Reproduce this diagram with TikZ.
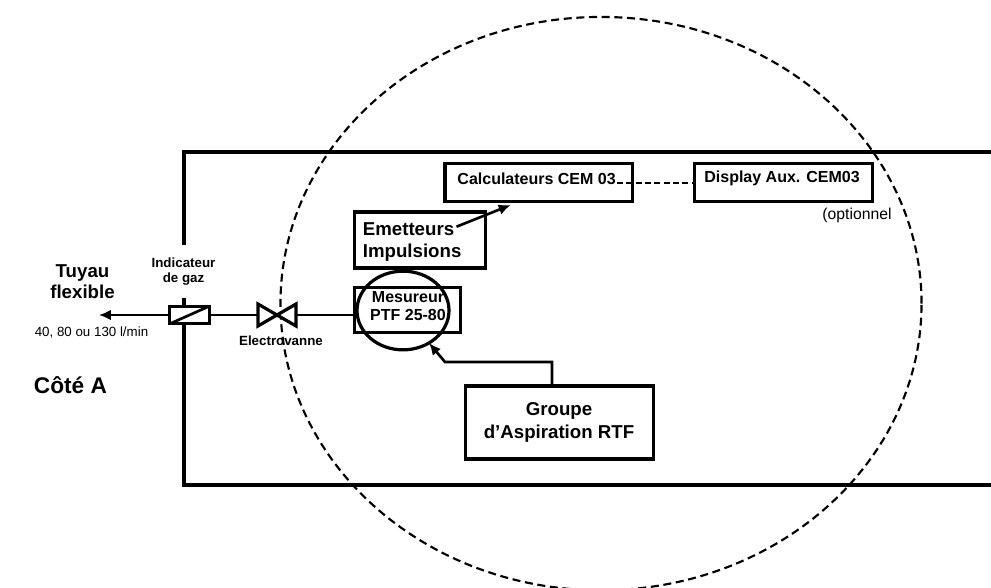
\documentclass[tikz,border=0pt]{standalone}
\usepackage{fontspec}
\setmainfont{Liberation Sans}
\usetikzlibrary{arrows.meta,shapes.geometric,calc}
\tikzset{
  boite/.style={draw,line width=2.4pt,inner sep=0pt,fill=white},
  trait/.style={line width=1.6pt},
  fleche/.style={line width=2pt,-{Latex[length=9pt,width=8pt]}},
  cadre/.style={line width=2.4pt},
  titre/.style={font=\fontsize{14}{16}\selectfont\bfseries,align=center},
  moyen/.style={font=\fontsize{12}{14}\selectfont\bfseries,align=center},
  petit/.style={font=\fontsize{10}{11.25}\selectfont\bfseries,align=center},
  note/.style={font=\fontsize{10}{12}\selectfont},
}
\begin{document}
\begin{tikzpicture}[x=.75pt,y=-.75pt]  % ------ coordinates in pixels of the figure -------
  \clip (0,0) rectangle (991,587);
  \node (zone) [draw,ellipse,line width=1.6pt,dash pattern=on 6pt off 3.5pt,inner sep=0pt,
     minimum width=480.8pt,minimum height=430pt] at (601,303.6) {};
  % frame, open on the right
  \coordinate (C1) at (991,152);
  \coordinate (C2) at (184,152);
  \coordinate (C3) at (184,245);
  \coordinate (C4) at (184,298);
  \coordinate (C5) at (184,485);
  \coordinate (C6) at (991,485);
  \draw [cadre] (C1) -- (C2) -- (C3);
  \draw [cadre] (C4) -- (C5) -- (C6);
  % boxes
  \node (calc) [boite,minimum width=140.6pt,minimum height=28.7pt] at (538.8,182.5) {};
  \node (disp) [boite,minimum width=133pt,minimum height=28.7pt] at (783.5,182.5) {};
  \node (emet) [boite,minimum width=98pt,minimum height=42pt] at (420,240) {};
  \node (mesu) [boite,minimum width=80pt,minimum height=34pt] at (407.5,310) {};
  \node (grou) [boite,minimum width=140.5pt,minimum height=54.7pt] at (559.5,422.5) {};
  \node (indic) [boite,minimum width=30pt,minimum height=13pt] at (189.5,315) {};
  \draw [line width=2pt] ($(indic.south west)+(3,-2)$) coordinate (I1) -- ($(indic.north east)+(-3,2)$) coordinate (I2);
  \node (tuyau) [inner sep=0pt] at (98,315) {};
  \node (vanne) [minimum width=28pt,minimum height=16pt,inner sep=0pt] at (277,315) {};
  \draw [line width=2.4pt,fill=white,line join=miter] (vanne.north west) -- (vanne.south east)
     -- (vanne.north east) -- (vanne.south west) -- cycle;
  \node (cercle) [draw,ellipse,line width=2.4pt,inner sep=0pt,minimum width=69pt,minimum height=59pt] at (403,310.5) {};
  % connectors
  \draw [fleche,line width=1.6pt] (indic) -- (tuyau);
  \draw [trait] (indic) -- (vanne.west);
  \draw [trait] (vanne.east) -- (vanne.east -| mesu.west);
  \coordinate (E1) at (456.5,226.7);
  \coordinate (E2) at (510.7,205);
  \draw [fleche] (E1) -- (E2);
  \coordinate (G1) at (552,362);
  \coordinate (G2) at (445,362);
  \coordinate (G3) at (429,343);
  \draw [fleche] (grou.north -| G1) -- (G1) -- (G2) -- (G3);
  \coordinate (D1) at (617,182.7);
  \draw [trait,dash pattern=on 4.5pt off 2.5pt] (D1) -- (D1 -| disp.west);
  % texts
  \node (tcalc) [moyen] at (536.6,178.5) {Calculateurs CEM 03};
  \node (tdisp) [moyen] at (782,178.5) {Display Aux. CEM03};
  \node (topt) [note,font=\fontsize{11.8}{14}\selectfont] at (857,215) {(optionnel};
  \node (temet) [titre,align=left,anchor=west,inner xsep=0pt] at (362.6,242) {Emetteurs\\Impulsions};
  \node (tmesu) [moyen] at (408,306) {Mesureur\\PTF 25-80};
  \node (tgrou) [titre] at (559,422.5) {Groupe\\[1pt]d’Aspiration RTF};
  \node (ttuy) [titre] at (82.5,281.5) {Tuyau\\flexible};
  \node (tdeb) [note] at (91.5,333) {40, 80 ou 130 l/min};
  \node (tcote) [titre,font=\fontsize{17}{20}\selectfont\bfseries] at (70.5,385) {Côté A};
  \node (tind) [petit] at (183.5,272) {Indicateur\\de gaz};
  \node (tele) [petit] at (281,341) {Electrovanne};
\end{tikzpicture}
\end{document}
